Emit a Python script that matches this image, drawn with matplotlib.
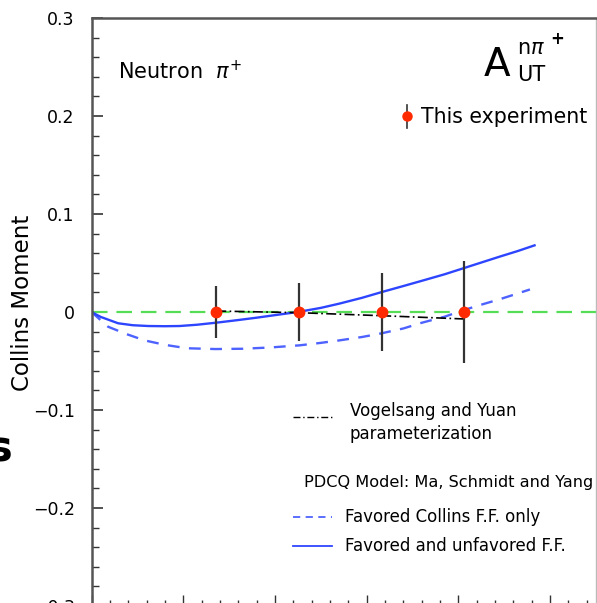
import matplotlib
matplotlib.use("Agg")
import matplotlib.pyplot as plt
from matplotlib.ticker import MultipleLocator, FixedLocator, FixedFormatter

# Datos del experimento
x_exp = [0.136, 0.226, 0.317, 0.406]
y_exp = [0.0, 0.0, 0.0, 0.0]
err_exp = [0.027, 0.030, 0.040, 0.052]

# Vogelsang y Yuan
x_vy = [0.136, 0.226, 0.317, 0.406]
y_vy = [0.001, -0.0007, -0.0038, -0.0071]

# Modelo PDCQ: favorecida + no favorecida (linea continua)
x_sol = [0.0, 0.01, 0.029, 0.045, 0.062, 0.08, 0.096, 0.115, 0.137, 0.16, 0.18, 0.20,
         0.225, 0.25, 0.27, 0.295, 0.317, 0.34, 0.36, 0.385, 0.406, 0.425, 0.445, 0.465, 0.483]
y_sol = [0.0, -0.005, -0.0115, -0.0135, -0.0143, -0.0145, -0.0143, -0.013, -0.0108, -0.0082,
         -0.0058, -0.0032, 0.0, 0.0042, 0.0085, 0.0145, 0.0205, 0.0265, 0.0318, 0.0385, 0.0448,
         0.0505, 0.0565, 0.0623, 0.068]

# Modelo PDCQ: solo favorecida (linea discontinua)
x_dash = [0.0, 0.018, 0.038, 0.058, 0.08, 0.104, 0.135, 0.165, 0.195, 0.227, 0.25, 0.27,
          0.295, 0.316, 0.34, 0.36, 0.385, 0.406, 0.425, 0.445, 0.46, 0.478]
y_dash = [0.0, -0.015, -0.0225, -0.029, -0.0335, -0.037, -0.0378, -0.0375, -0.0362, -0.034,
          -0.0315, -0.029, -0.0255, -0.0218, -0.0168, -0.011, -0.0048, 0.002, 0.0075, 0.013,
          0.0175, 0.023]

ytick_vals = [-0.3, -0.2, -0.1, 0.0, 0.1, 0.2, 0.3]
ytick_labels = ["\u22120.3", "\u22120.2", "\u22120.1", "0", "0.1", "0.2", "0.3"]

W, H = 597, 603
fig = plt.figure(figsize=(W / 100, H / 100), dpi=100)


def fx(px):
    return px / W


def fy(py):
    return 1 - py / H


ax = fig.add_axes([fx(91.5), fy(606), fx(596) - fx(91.5), (606 - 18) / H])
ax.set_xlim(0, 0.55)
ax.set_ylim(-0.3, 0.3)

ax.axhline(0, color="#55dd55", lw=1.6, dashes=(7, 4))
ax.plot(x_dash, y_dash, color="#4d62ff", lw=1.7, dashes=(5, 4))
ax.plot(x_sol, y_sol, color="#2e45ff", lw=1.7)
ax.plot(x_vy, y_vy, color="black", lw=1.2, dashes=(6, 2, 1, 2))
ax.errorbar(x_exp, y_exp, yerr=err_exp, fmt="o", color="#ff2a00", ms=7.5,
            ecolor="#333333", elinewidth=1.6, capsize=0, zorder=5)

for s in ["left", "top"]:
    ax.spines[s].set_color("#555555")
    ax.spines[s].set_linewidth(1.8)
ax.spines["right"].set_color("#bbbbbb")
ax.spines["right"].set_linewidth(1.0)
ax.spines["bottom"].set_color("#555555")

ax.yaxis.set_major_locator(FixedLocator(ytick_vals))
ax.yaxis.set_major_formatter(FixedFormatter(ytick_labels))
ax.yaxis.set_minor_locator(MultipleLocator(0.02))
ax.xaxis.set_major_locator(MultipleLocator(0.1))
ax.xaxis.set_minor_locator(MultipleLocator(0.02))
ax.tick_params(axis="y", which="major", direction="in", length=8, width=1.2,
               color="#333333", labelsize=12.5, pad=12, right=False)
ax.tick_params(axis="y", which="minor", direction="in", length=5, width=1.0,
               color="#333333", right=False)
ax.tick_params(axis="x", which="major", direction="in", length=8, width=1.0,
               color="#333333", labelbottom=False, top=False)
ax.tick_params(axis="x", which="minor", direction="in", length=4, width=1.0,
               color="#333333", top=False)
for lab in ax.get_yticklabels():
    lab.set_fontweight("medium")

fig.text(fx(23), fy(303), "Collins Moment", rotation=90, fontsize=16.5,
         ha="center", va="center")
fig.text(fx(13), fy(450), "s", fontsize=30, fontweight="bold",
         ha="right", va="center")

# Textos dentro del grafico
fig.text(fx(118), fy(71), "Neutron  $\\pi^{+}$", fontsize=15, ha="left", va="center")
fig.text(fx(484), fy(65), "A", fontsize=28, ha="left", va="center")
fig.text(fx(517), fy(48), "n$\\pi$", fontsize=15, ha="left", va="center")
fig.text(fx(550), fy(39), "+", fontsize=12, fontweight="bold", ha="left", va="center")
fig.text(fx(517), fy(75), "UT", fontsize=15, ha="left", va="center")

# Leyenda del experimento
fig.add_artist(plt.Line2D([fx(407), fx(407)], [fy(105), fy(128)], color="#333333", lw=1.2))
fig.add_artist(plt.Line2D([fx(407)], [fy(116)], marker="o", color="#ff2a00", ms=6.5))
fig.text(fx(421), fy(117), "This experiment", fontsize=14.8, ha="left", va="center")

# Leyenda de modelos
fig.add_artist(plt.Line2D([fx(293), fx(332)], [fy(417), fy(417)], color="black", lw=1.0,
                          dashes=(5, 2, 1, 2)))
fig.text(fx(350), fy(411), "Vogelsang and Yuan", fontsize=12, ha="left", va="center")
fig.text(fx(350), fy(434), "parameterization", fontsize=12, ha="left", va="center")
fig.text(fx(304), fy(483), "PDCQ Model: Ma, Schmidt and Yang", fontsize=11.6,
         ha="left", va="center")
fig.add_artist(plt.Line2D([fx(293), fx(332)], [fy(517), fy(517)], color="#4d62ff", lw=1.3,
                          dashes=(4, 3)))
fig.text(fx(345), fy(517), "Favored Collins F.F. only", fontsize=12, ha="left", va="center")
fig.add_artist(plt.Line2D([fx(293), fx(332)], [fy(546), fy(546)], color="#2e45ff", lw=1.3))
fig.text(fx(345), fy(546), "Favored and unfavored F.F.", fontsize=12, ha="left", va="center")

fig.savefig("out.png", dpi=100)
